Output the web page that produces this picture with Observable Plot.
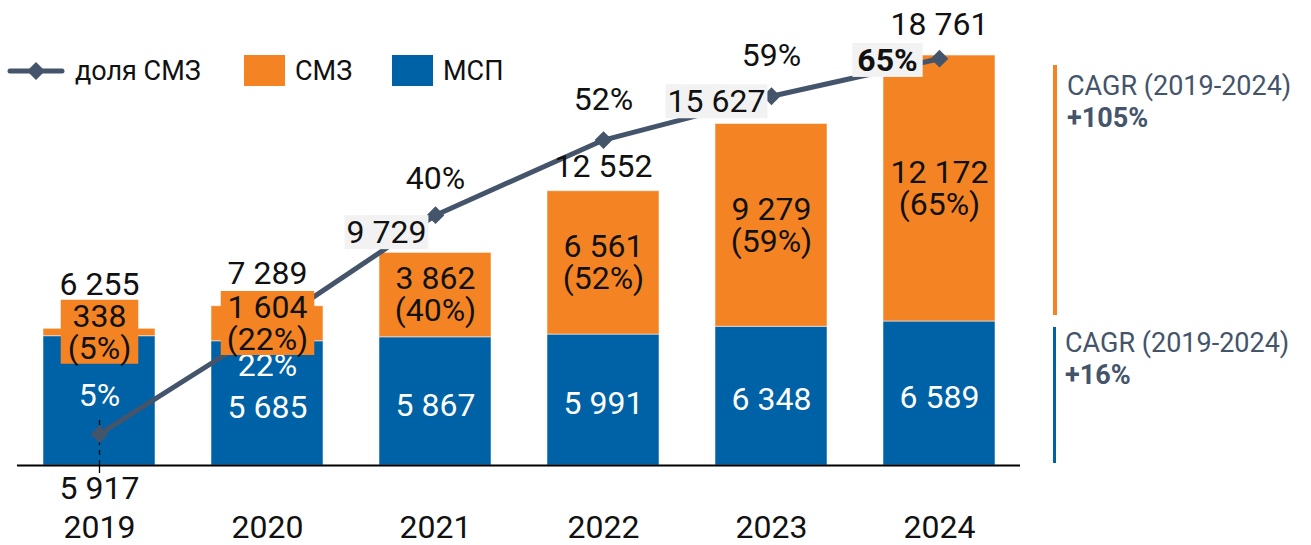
<!DOCTYPE html>
<html>
<head>
<meta charset="utf-8">
<script src="https://cdn.jsdelivr.net/npm/d3@7"></script>
<script src="https://cdn.jsdelivr.net/npm/@observablehq/plot@0.6"></script>
<style>
  body { margin: 0; background: #fff; font-family: Roboto, "Noto Sans", sans-serif; }
  #wrap { position: relative; width: 1311px; height: 545px; overflow: hidden; }
  #chart { position: absolute; left: 0; top: 0; }
  .abs { position: absolute; white-space: nowrap; }
  .lg { font-size: 27px; line-height: 32px; color: #111; }
  .cagr { font-size: 27px; line-height: 32px; color: #44546a; }
  .cagr b { font-weight: 700; }
</style>
</head>
<body>
<div id="wrap">
  <div id="chart"></div>
  <div id="legend"></div>
  <div id="cagr"></div>
</div>
<script>
// ---------- data ----------
const years = ["2019", "2020", "2021", "2022", "2023", "2024"];
const msp = [5917, 5685, 5867, 5991, 6348, 6589];      // МСП
const smz = [338, 1604, 3862, 6561, 9279, 12172];      // СМЗ
const totals = [6255, 7289, 9729, 12552, 15627, 18761];
const share = [5, 22, 40, 52, 59, 65];                 // доля СМЗ, %
const seriesNames = ["МСП", "СМЗ"];
const lineName = "доля СМЗ";
const cagrLabel = "CAGR (2019-2024)";
const cagrValues = ["+105%", "+16%"];

// ---------- style ----------
const BLUE = "#0062a6", ORANGE = "#f48423", LINE = "#44546a", INK = "#111";
const yMax = 21280;          // primary axis top
const shareAxisMax = 74.3;   // secondary axis top (%)
const FS = 32;
const PLOT_H = 465;          // px height of the y range
const px = p => p / PLOT_H * yMax;   // pixel length -> y units (for leader line extents)

// label placement (styling offsets, px)
const totalDx = [0, 0, -49, 0, -55, 0];
const totalDy = [-44, -32, -20, -24, -22, -31];
const shareDx = [0, 0, 0, 0, 0, -52];
const shareDy = [-38, 38, -36, -40, -41, 2];
const shareFill = ["#fff", "#fff", INK, INK, INK, INK];
const shareBold = [false, false, false, false, false, true];

const fmt = v => d3.format(",")(v).replace(/,/g, " ");

const barRows = [];
seriesNames.forEach((s, si) => years.forEach((yr, i) => {
  barRows.push({year: yr, series: s, value: si === 0 ? msp[i] : smz[i]});
}));
const lineRows = years.map((yr, i) => ({year: yr, v: share[i] / shareAxisMax * yMax}));

const marks = [
  Plot.barY(barRows, {x: "year", y: "value", fill: "series", stroke: "#fff", strokeOpacity: 0.5, strokeWidth: 1}),
  Plot.ruleY([0], {stroke: "#000", strokeWidth: 2}),
  // leader for 2019 МСП label
  Plot.ruleX([lineRows[0]], {x: "year", y1: 0, y2: d => d.v + px(18), stroke: "#000", strokeWidth: 1.3, strokeDasharray: "5,5"}),
  Plot.ruleX([lineRows[0]], {x: "year", y1: px(-8), y2: 0, stroke: "#000", strokeWidth: 1.3}),
  Plot.line(lineRows, {x: "year", y: "v", stroke: LINE, strokeWidth: 5, strokeLinejoin: "round"}),
  Plot.dot(lineRows, {x: "year", y: "v", symbol: "diamond2", r: 8, fill: LINE, stroke: null}),
  Plot.axisX({tickSize: 0, tickPadding: 50, fontSize: FS, label: null, fill: INK}),
];

years.forEach((yr, i) => {
  // МСП labels
  if (i === 0) {
    marks.push(Plot.text([i], {x: () => yr, y: () => 0, text: () => fmt(msp[i]), dy: 23, fontSize: FS, fill: INK, lineAnchor: "middle"}));
  } else {
    marks.push(Plot.text([i], {x: () => yr, y: () => msp[i] / 2, text: () => fmt(msp[i]), dy: 4, fontSize: FS, fill: "#fff", lineAnchor: "middle"}));
  }
  // share labels
  marks.push(Plot.text([i], {x: () => yr, y: () => lineRows[i].v, text: () => share[i] + "%", dx: shareDx[i], dy: shareDy[i],
    fontSize: FS, fill: shareFill[i], fontWeight: shareBold[i] ? "bold" : "normal", lineAnchor: "middle"}));
  // СМЗ labels
  marks.push(Plot.text([i], {x: () => yr, y: () => msp[i] + smz[i] / 2, text: () => fmt(smz[i]) + "\n(" + share[i] + "%)",
    fontSize: FS, fill: INK, lineAnchor: "middle", lineHeight: 1}));
  // totals
  marks.push(Plot.text([i], {x: () => yr, y: () => totals[i], text: () => fmt(totals[i]), dx: totalDx[i], dy: totalDy[i],
    fontSize: FS, fill: INK, lineAnchor: "middle"}));
});

const chart = Plot.plot({
  width: 1311, height: 545,
  marginLeft: 17, marginRight: 291, marginTop: 0, marginBottom: 80,
  style: {fontFamily: "Roboto, 'Noto Sans', sans-serif", background: "transparent", overflow: "visible"},
  x: {domain: years, paddingInner: 1 / 3, paddingOuter: 0.149, axis: null},
  y: {domain: [0, yMax], axis: null},
  color: {domain: seriesNames, range: [BLUE, ORANGE]},
  marks
});
document.getElementById("chart").append(chart);

// label backgrounds (behind text)
const bg = {};
bg[fmt(totals[2])] = ["#f2f2f2", 2, -2];
bg[fmt(totals[4])] = ["#f2f2f2", 2, -2];
bg[share[5] + "%"] = ["#f2f2f2", 5, -2];
bg[fmt(smz[0]) + "(" + share[0] + "%)"] = [ORANGE, 7, -3];
bg[fmt(smz[1]) + "(" + share[1] + "%)"] = [ORANGE, 6, -3];
const NS = "http://www.w3.org/2000/svg";
chart.querySelectorAll("text").forEach(t => {
  const spec = bg[t.textContent];
  if (!spec) return;
  const b = t.getBBox();
  const r = document.createElementNS(NS, "rect");
  r.setAttribute("x", b.x - spec[1]);
  r.setAttribute("y", b.y - spec[2]);
  r.setAttribute("width", b.width + 2 * spec[1]);
  r.setAttribute("height", b.height + 2 * spec[2]);
  r.setAttribute("fill", spec[0]);
  if (t.getAttribute("transform")) r.setAttribute("transform", t.getAttribute("transform"));
  t.parentNode.insertBefore(r, t);
});

// legend
const lg = document.getElementById("legend");
lg.innerHTML = `
  <svg class="abs" style="left:5px;top:58px" width="62" height="26">
    <line x1="5" y1="13" x2="57" y2="13" stroke="${LINE}" stroke-width="5" stroke-linecap="round"/>
    <path d="M31 4 L40 13 L31 22 L22 13 Z" fill="${LINE}"/>
  </svg>
  <div class="abs lg" style="left:75px;top:55px">${lineName}</div>
  <div class="abs" style="left:244px;top:55px;width:41px;height:31px;background:${ORANGE}"></div>
  <div class="abs lg" style="left:295px;top:55px">${seriesNames[1]}</div>
  <div class="abs" style="left:392px;top:55px;width:41px;height:31px;background:${BLUE}"></div>
  <div class="abs lg" style="left:443px;top:55px">${seriesNames[0]}</div>`;

// CAGR annotations
const cg = document.getElementById("cagr");
cg.innerHTML = `
  <div class="abs" style="left:1053px;top:65px;width:4px;height:250px;background:${ORANGE}"></div>
  <div class="abs cagr" style="left:1067px;top:70px">${cagrLabel}<br><b>${cagrValues[0]}</b></div>
  <div class="abs" style="left:1053px;top:327px;width:3px;height:136px;background:${BLUE}"></div>
  <div class="abs cagr" style="left:1065px;top:327px">${cagrLabel}<br><b>${cagrValues[1]}</b></div>`;
</script>
</body>
</html>
